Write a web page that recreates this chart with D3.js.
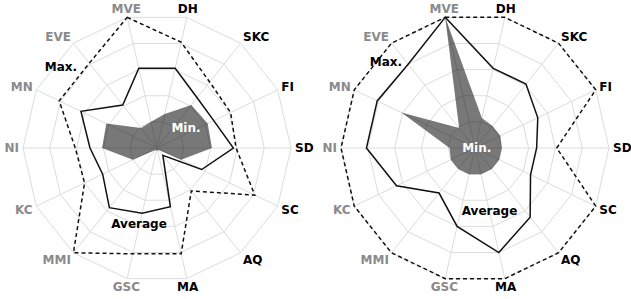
<!DOCTYPE html>
<html>
<head>
<meta charset="utf-8">
<script src="https://cdn.jsdelivr.net/npm/d3@7"></script>
<style>
  body { margin: 0; background: #fff; }
  text { font-family: "DejaVu Sans", sans-serif; font-weight: bold; font-size: 12px; }
</style>
</head>
<body>
<div id="chart"></div>
<script>
// Axes, clockwise starting from the one just left of the top
var categories = ["MVE", "DH", "SKC", "FI", "SD", "SC", "AQ", "MA", "GSC", "MMI", "KC", "NI", "MN", "EVE"];
var grayLabels = ["MVE", "EVE", "MN", "NI", "KC", "MMI", "GSC"];
var ringTicks = [0.2, 0.4, 0.6, 0.8, 1.0];

// Left chart
var maxLeft = [1.0, 0.81, 0.63, 0.61, 0.59, 0.81, 0.41, 0.81, 0.81, 1.0, 0.6, 0.61, 0.81, 0.81];
var avgLeft = [0.61, 0.61, 0.48, 0.47, 0.57, 0.37, 0.07, 0.45, 0.5, 0.57, 0.45, 0.5, 0.63, 0.41];
var minLeft = [0.2, 0.26, 0.41, 0.42, 0.41, 0.2, 0.02, 0.02, 0.02, 0.02, 0.2, 0.41, 0.42, 0.19];

// Right chart
var maxRight = [1, 1, 1, 1, 0.61, 1, 1, 1, 1, 1, 1, 1, 1, 1];
var avgRight = [1.0, 0.61, 0.61, 0.52, 0.46, 0.46, 0.66, 0.8, 0.6, 0.43, 0.65, 0.81, 0.81, 0.8];
var minRight = [1.0, 0.23, 0.21, 0.21, 0.2, 0.2, 0.2, 0.2, 0.2, 0.2, 0.2, 0.19, 0.61, 0.19];

var width = 631, height = 299;
var R = 134;

var svg = d3.select("#chart")
  .append("svg")
  .attr("width", width)
  .attr("height", height);

var r = d3.scaleLinear().domain([0, 1]).range([0, R]);
var angle = d3.scaleLinear()
  .domain([0, categories.length])
  .range([-Math.PI / categories.length, 2 * Math.PI - Math.PI / categories.length]);

var radial = d3.lineRadial()
  .angle(function(d, i) { return angle(i); })
  .radius(function(d) { return r(d); })
  .curve(d3.curveLinearClosed);

function drawRadar(cx, cy, maxV, avgV, minV, notes) {
  var g = svg.append("g").attr("transform", "translate(" + cx + "," + cy + ")");

  // grid rings
  g.selectAll(".ring")
    .data(ringTicks)
    .enter()
    .append("path")
    .attr("d", function(t) { return radial(categories.map(function() { return t; })); })
    .attr("fill", "none")
    .attr("stroke", "#dcdcdc")
    .attr("stroke-width", 1);

  // spokes
  g.selectAll(".spoke")
    .data(categories)
    .enter()
    .append("line")
    .attr("x2", function(d, i) { return r(1) * Math.sin(angle(i)); })
    .attr("y2", function(d, i) { return -r(1) * Math.cos(angle(i)); })
    .attr("stroke", "#dcdcdc")
    .attr("stroke-width", 1);

  // Min area
  g.append("path")
    .attr("d", radial(minV))
    .attr("fill", "#000")
    .attr("fill-opacity", 0.53)
    .attr("stroke", "none");

  // Average line
  g.append("path")
    .attr("d", radial(avgV))
    .attr("fill", "none")
    .attr("stroke", "#111")
    .attr("stroke-width", 1.5);

  // Max line
  g.append("path")
    .attr("d", radial(maxV))
    .attr("fill", "none")
    .attr("stroke", "#111")
    .attr("stroke-width", 1.5)
    .attr("stroke-dasharray", "4,3");

  // axis labels
  g.selectAll(".lab")
    .data(categories)
    .enter()
    .append("text")
    .attr("x", function(d, i) { var s = Math.sin(angle(i)); return r(1) * s + s * 4; })
    .attr("y", function(d, i) { var c = Math.cos(angle(i)); return -r(1) * c - c * 8.5; })
    .attr("dy", "0.36em")
    .attr("text-anchor", function(d, i) {
      var s = Math.sin(angle(i));
      if (s > 0.3) return "start";
      if (s < -0.3) return "end";
      return "middle";
    })
    .attr("fill", function(d) { return grayLabels.indexOf(d) >= 0 ? "#8a8a8a" : "#000"; })
    .text(function(d) { return d; });

  // series notes
  g.selectAll(".note")
    .data(notes)
    .enter()
    .append("text")
    .attr("x", function(d) { return d.dx; })
    .attr("y", function(d) { return d.dy; })
    .attr("dy", "0.36em")
    .attr("text-anchor", "middle")
    .attr("fill", function(d) { return d.white ? "#fff" : "#000"; })
    .text(function(d) { return d.name; });
}

drawRadar(157, 148, maxLeft, avgLeft, minLeft, [
  {name: "Max.", dx: -96, dy: -81},
  {name: "Average", dx: -18, dy: 76},
  {name: "Min.", dx: 29, dy: -20, white: true}
]);

drawRadar(475, 148, maxRight, avgRight, minRight, [
  {name: "Max.", dx: -89, dy: -86},
  {name: "Average", dx: 14.5, dy: 63},
  {name: "Min.", dx: 1.7, dy: 0, white: true}
]);
</script>
</body>
</html>
